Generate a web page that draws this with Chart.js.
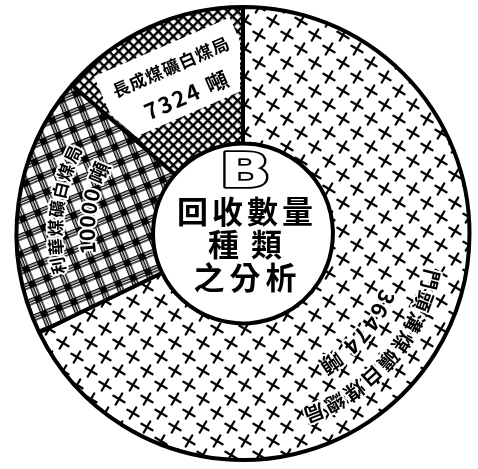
<!DOCTYPE html>
<html>
<head>
<meta charset="utf-8">
<script src="https://cdn.jsdelivr.net/npm/chart.js@4/dist/chart.umd.min.js"></script>
<style>
html,body{margin:0;padding:0;background:#fff;}
#c{display:block;}
</style>
</head>
<body>
<canvas id="c" width="478" height="469"></canvas>
<script>
// ---- data ----
const categories = ['門頭溝煤礦白煤總局', '利華煤礦白煤局', '長成煤礦白煤局'];
const tonnage = [36474, 10000, 7324];
const unit = '噸';
const centerTitle = ['B', '回收數量', '種類', '之分析'];

// ---- patterns (styles) ----
function makeTile(s, draw) {
  const c = document.createElement('canvas');
  c.width = s; c.height = s;
  const g = c.getContext('2d');
  g.fillStyle = '#fff'; g.fillRect(0, 0, s, s);
  draw(g, s);
  return c;
}
const pctx = document.getElementById('c').getContext('2d');

function crossPattern() {
  const tile = makeTile(28, (g, s) => {
    g.strokeStyle = '#000'; g.lineWidth = 2.3; g.lineCap = 'round';
    const centers = [[7, 7], [21, 21]];
    const h = 6.4, rot = 30 * Math.PI / 180;
    centers.forEach(([cx, cy]) => {
      for (let dx = -s; dx <= s; dx += s) for (let dy = -s; dy <= s; dy += s) {
        g.save(); g.translate(cx + dx, cy + dy); g.rotate(rot);
        g.beginPath(); g.moveTo(-h, 0); g.lineTo(h, 0); g.moveTo(0, -h); g.lineTo(0, h); g.stroke();
        g.restore();
      }
    });
  });
  return pctx.createPattern(tile, 'repeat');
}
function hatchPattern() {
  const tile = makeTile(7, (g, s) => {
    g.fillStyle = '#000';
    g.fillRect(0, 0, 2.4, s); g.fillRect(0, 0, s, 2.4);
  });
  const p = pctx.createPattern(tile, 'repeat');
  p.setTransform(new DOMMatrix().rotate(45));
  return p;
}
function plaidPattern() {
  const tile = makeTile(16, (g, s) => {
    g.fillStyle = '#000';
    [0, 2.6, 5.2].forEach(x => { g.fillRect(x, 0, 1.4, s); g.fillRect(0, x, s, 1.4); });
    g.fillRect(0, 0, 6.6, 6.6);
  });
  const p = pctx.createPattern(tile, 'repeat');
  p.setTransform(new DOMMatrix().rotate(-22));
  return p;
}
const fills = [crossPattern(), plaidPattern(), hatchPattern()];

// ---- label layout (positions/styles) ----
// frac: position along the arc (0..1), ring: radial position within ring (0 inner .. 1 outer)
const labelLayout = [
  { name: { frac: 0.537, ring: 0.755, font: 'bold 20px "Noto Sans CJK TC"', gap: 3 },
    value: { frac: 0.535, ring: 0.49, font: 'bold 22px "Noto Sans CJK TC"', gap: 2 } },
  { name: { frac: 0.50, ring: 0.715, font: 'bold 17px "Noto Sans CJK TC"', gap: 2 },
    value: { frac: 0.53, ring: 0.485, font: 'bold 21px "Noto Sans CJK TC"', gap: 1 } },
  { box: { frac: 0.52, ring: 0.56 } }
];

function drawArcText(ctx, text, cx, cy, r, centerAngle, font, gap) {
  ctx.font = font;
  const chars = [...text];
  const widths = chars.map(c => ctx.measureText(c).width + gap);
  const total = widths.reduce((a, b) => a + b, 0) - gap;
  let a = centerAngle - total / 2 / r;
  chars.forEach((ch, i) => {
    const w = widths[i] - gap;
    const ang = a + w / 2 / r;
    ctx.save();
    ctx.translate(cx + r * Math.cos(ang), cy + r * Math.sin(ang));
    ctx.rotate(ang + Math.PI / 2);
    ctx.strokeText(ch, 0, 0);
    ctx.fillText(ch, 0, 0);
    ctx.restore();
    a += widths[i] / r;
  });
}

const labelPlugin = {
  id: 'labels',
  afterDatasetsDraw(chart) {
    const ctx = chart.ctx;
    const arcs = chart.getDatasetMeta(0).data;
    ctx.save();
    ctx.fillStyle = '#000';
    ctx.strokeStyle = '#fff';
    ctx.lineWidth = 4;
    ctx.lineJoin = 'round';
    ctx.textAlign = 'center';
    ctx.textBaseline = 'middle';
    arcs.forEach((arc, i) => {
      const { x, y, startAngle, endAngle, innerRadius, outerRadius } = arc.getProps(['x', 'y', 'startAngle', 'endAngle', 'innerRadius', 'outerRadius'], true);
      const L = labelLayout[i];
      const valueText = tonnage[i] + ' ' + unit;
      const at = (f) => startAngle + (endAngle - startAngle) * f;
      const rad = (g) => innerRadius + (outerRadius - innerRadius) * g;
      if (L.name) {
        drawArcText(ctx, categories[i], x, y, rad(L.name.ring), at(L.name.frac), L.name.font, L.name.gap);
        drawArcText(ctx, valueText, x, y, rad(L.value.ring), at(L.value.frac), L.value.font, L.value.gap);
      } else if (L.box) {
        const ang = at(L.box.frac), r = rad(L.box.ring);
        ctx.save();
        // keep the white box inside its own segment
        const ro = outerRadius - 3, ri = innerRadius + 3;
        ctx.beginPath();
        ctx.arc(x, y, ro, startAngle + 3 / ro, endAngle - 3 / ro);
        ctx.arc(x, y, ri, endAngle - 3 / ri, startAngle + 3 / ri, true);
        ctx.closePath();
        ctx.clip();
        ctx.translate(x + r * Math.cos(ang), y + r * Math.sin(ang));
        ctx.rotate(ang + Math.PI / 2);
        ctx.fillStyle = '#fff';
        ctx.fillRect(-74, -37, 148, 72);
        ctx.fillStyle = '#000';
        ctx.font = 'bold 17px "Noto Sans CJK TC"';
        ctx.textAlign = 'left';
        const w1 = ctx.measureText(categories[i]).width + 6;
        ctx.letterSpacing = '1px';
        ctx.fillText(categories[i], -w1 / 2, -15);
        ctx.font = 'bold 22px "Noto Sans CJK TC"';
        ctx.letterSpacing = '2px';
        const w2 = ctx.measureText(valueText).width;
        ctx.fillText(valueText, -w2 / 2 + 4, 17);
        ctx.restore();
      }
    });
    // centre title
    const { x, y } = arcs[0].getProps(['x', 'y'], true);
    ctx.textAlign = 'left';
    ctx.save();
    ctx.translate(x + 2, y - 59);
    ctx.scale(1.4, 1);
    ctx.font = 'bold 48px "DejaVu Sans"';
    ctx.lineWidth = 3.5;
    ctx.strokeStyle = '#000';
    ctx.fillStyle = '#fff';
    ctx.textAlign = 'center';
    ctx.strokeText(centerTitle[0], 0, 0);
    ctx.fillText(centerTitle[0], 0, 0);
    ctx.restore();
    ctx.fillStyle = '#000';
    ctx.font = 'bold 31px "Noto Sans CJK TC"';
    const line = (t, sp, dy) => {
      ctx.letterSpacing = '0px';
      const n = [...t].length;
      const w = ctx.measureText(t).width + sp * (n - 1);
      ctx.letterSpacing = sp + 'px';
      ctx.fillText(t, x + 2 - w / 2, y + dy);
    };
    line(centerTitle[1], 4, -22);
    line(centerTitle[2], 12, 11);
    line(centerTitle[3], 5, 44);
    ctx.restore();
  }
};

new Chart(document.getElementById('c'), {
  type: 'doughnut',
  data: {
    labels: categories,
    datasets: [{
      data: tonnage,
      backgroundColor: fills,
      borderColor: '#000',
      borderWidth: 4
    }]
  },
  options: {
    responsive: false,
    animation: false,
    events: [],
    cutout: '39.7%',
    layout: { padding: { left: 8, top: 5, bottom: 7, right: 0 } },
    plugins: { legend: { display: false }, tooltip: { enabled: false } }
  },
  plugins: [labelPlugin]
});
</script>
</body>
</html>
